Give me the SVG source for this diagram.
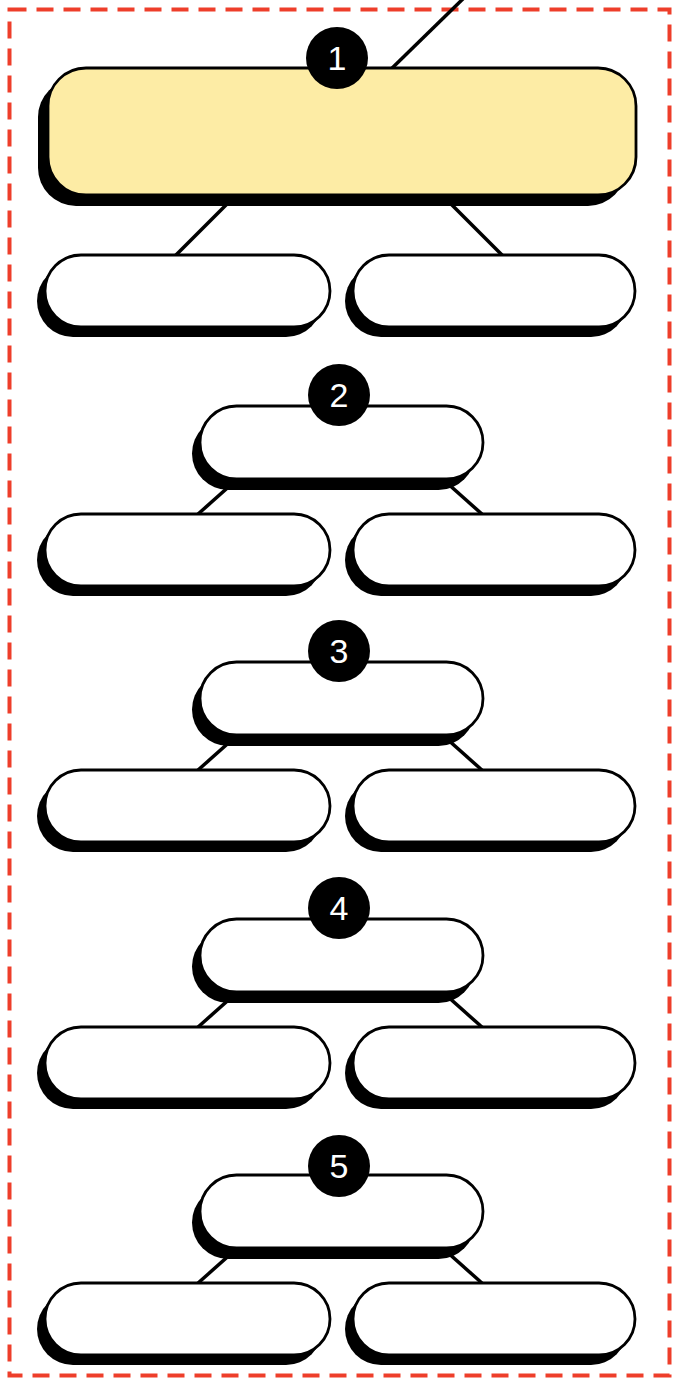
<svg xmlns="http://www.w3.org/2000/svg" width="673" height="1380" viewBox="0 0 673 1380">
<style>
.bd{fill:none;stroke:#ee3e2a;stroke-width:4;stroke-dasharray:17 10}
.cn{stroke:#000;stroke-width:3.5;fill:none}
.sh{fill:#000}
.bx{fill:#fff;stroke:#000;stroke-width:2.8}
.yl{fill:#fdeca5}
.bg{fill:#000}
.bt{fill:#fff;font-family:"Liberation Sans",Arial,sans-serif;font-size:34px;text-anchor:middle}
</style>
<rect class="bd" x="9.5" y="9.5" width="660" height="1366"/>
<g id="connectors">
<line class="cn" x1="385" y1="75" x2="470" y2="-8"/>
<line class="cn" x1="241" y1="190" x2="175" y2="256"/>
<line class="cn" x1="437" y1="190" x2="503" y2="256"/>
<line class="cn" x1="252" y1="466" x2="197" y2="515"/>
<line class="cn" x1="428" y1="466" x2="483" y2="515"/>
<line class="cn" x1="252" y1="722" x2="197" y2="771"/>
<line class="cn" x1="428" y1="722" x2="483" y2="771"/>
<line class="cn" x1="252" y1="979" x2="197" y2="1028"/>
<line class="cn" x1="428" y1="979" x2="483" y2="1028"/>
<line class="cn" x1="252" y1="1235" x2="197" y2="1284"/>
<line class="cn" x1="428" y1="1235" x2="483" y2="1284"/>
</g>
<g id="node1">
<rect class="sh" x="38" y="79" width="588" height="127" rx="38"/>
<rect class="bx yl" x="48" y="68" width="588" height="127" rx="38"/>
<circle class="bg" cx="337" cy="58" r="31"/>
<text class="bt" x="337" y="70">1</text>
</g>
<g id="node1a">
<rect class="sh" x="37" y="265" width="285" height="72" rx="36"/>
<rect class="bx" x="45" y="255" width="285" height="72" rx="36"/>
</g>
<g id="node1b">
<rect class="sh" x="345" y="265" width="282" height="72" rx="36"/>
<rect class="bx" x="353" y="255" width="282" height="72" rx="36"/>
</g>
<g id="node2">
<rect class="sh" x="192" y="417" width="283" height="73" rx="36.5"/>
<rect class="bx" x="200" y="406" width="283" height="73" rx="36.5"/>
<circle class="bg" cx="339" cy="395" r="31"/>
<text class="bt" x="339" y="407">2</text>
</g>
<g id="node2a">
<rect class="sh" x="37" y="524" width="285" height="72" rx="36"/>
<rect class="bx" x="45" y="514" width="285" height="72" rx="36"/>
</g>
<g id="node2b">
<rect class="sh" x="345" y="524" width="282" height="72" rx="36"/>
<rect class="bx" x="353" y="514" width="282" height="72" rx="36"/>
</g>
<g id="node3">
<rect class="sh" x="192" y="673" width="283" height="73" rx="36.5"/>
<rect class="bx" x="200" y="662" width="283" height="73" rx="36.5"/>
<circle class="bg" cx="339" cy="651" r="31"/>
<text class="bt" x="339" y="663">3</text>
</g>
<g id="node3a">
<rect class="sh" x="37" y="780" width="285" height="72" rx="36"/>
<rect class="bx" x="45" y="770" width="285" height="72" rx="36"/>
</g>
<g id="node3b">
<rect class="sh" x="345" y="780" width="282" height="72" rx="36"/>
<rect class="bx" x="353" y="770" width="282" height="72" rx="36"/>
</g>
<g id="node4">
<rect class="sh" x="192" y="930" width="283" height="73" rx="36.5"/>
<rect class="bx" x="200" y="919" width="283" height="73" rx="36.5"/>
<circle class="bg" cx="339" cy="908" r="31"/>
<text class="bt" x="339" y="920">4</text>
</g>
<g id="node4a">
<rect class="sh" x="37" y="1037" width="285" height="72" rx="36"/>
<rect class="bx" x="45" y="1027" width="285" height="72" rx="36"/>
</g>
<g id="node4b">
<rect class="sh" x="345" y="1037" width="282" height="72" rx="36"/>
<rect class="bx" x="353" y="1027" width="282" height="72" rx="36"/>
</g>
<g id="node5">
<rect class="sh" x="192" y="1186" width="283" height="73" rx="36.5"/>
<rect class="bx" x="200" y="1175" width="283" height="73" rx="36.5"/>
<circle class="bg" cx="339" cy="1166" r="31"/>
<text class="bt" x="339" y="1178">5</text>
</g>
<g id="node5a">
<rect class="sh" x="37" y="1293" width="285" height="72" rx="36"/>
<rect class="bx" x="45" y="1283" width="285" height="72" rx="36"/>
</g>
<g id="node5b">
<rect class="sh" x="345" y="1293" width="282" height="72" rx="36"/>
<rect class="bx" x="353" y="1283" width="282" height="72" rx="36"/>
</g>
</svg>
